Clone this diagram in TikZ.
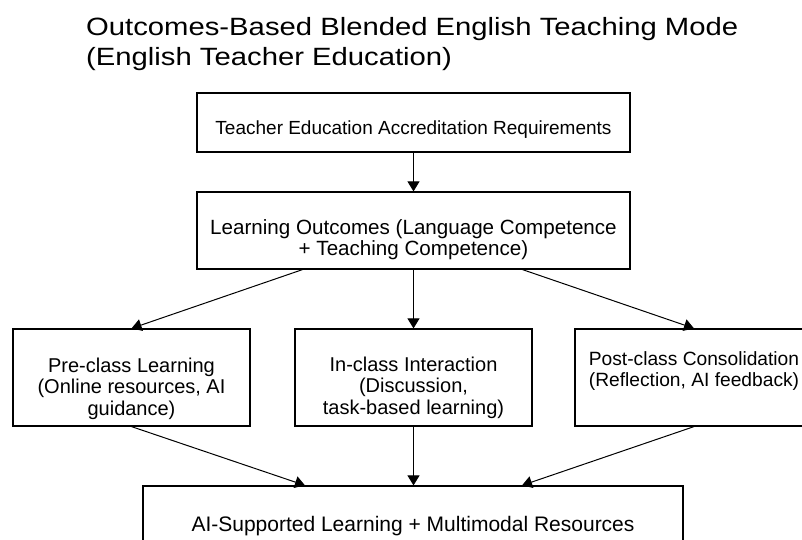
\documentclass[tikz,border=0pt]{standalone}
\usepackage{fontspec}
\setmainfont{Liberation Sans}
\newfontfamily\titlefont{Liberation Sans}[FakeStretch=1.17]
\usetikzlibrary{arrows.meta,positioning}

\tikzset{
  stage/.style={draw, line width=1.2pt, align=center, inner sep=0pt,
                font=\fontsize{20}{21.5}\selectfont},
  flow/.style={line width=1pt, -{Triangle[width=12pt,length=10pt]}}
}

\begin{document}
\begin{tikzpicture}[x=1pt, y=-1pt]
	\useasboundingbox (0,0) rectangle (802,540);
	\fill[white] (0,0) rectangle (802,540);
	\clip (0,0) rectangle (802,540);
	\node[anchor=base west, align=left, inner sep=0pt,
	      font=\titlefont\fontsize{25}{30}\selectfont] (title) at (86,66)
	      {Outcomes-Based Blended English Teaching Mode\\(English Teacher Education)};
	\node[stage, minimum width=433pt, minimum height=59pt, text height=25pt, text depth=0pt,
	      font=\fontsize{19}{21}\selectfont] (accr) at (413.5,122.5)
	      {Teacher Education Accreditation Requirements};
	\node[stage, minimum width=433pt, minimum height=77pt, text height=49pt, text depth=0pt,
	      font=\fontsize{20.6}{20.5}\selectfont] (outc) at (413.5,230.5)
	      {Learning Outcomes (Language Competence\\+ Teaching Competence)};
	\node[stage, minimum width=237pt, minimum height=97pt, text height=75pt, text depth=0pt]
	      (pre) at (131.5,377.5) {Pre-class Learning\\(Online resources, AI\\guidance)};
	\node[stage, minimum width=237pt, minimum height=97pt, text height=73pt, text depth=0pt]
	      (incl) at (413.5,377.5) {In-class Interaction\\(Discussion,\\task-based learning)};
	\node[stage, minimum width=238pt, minimum height=97pt, text height=18.4pt, text depth=0pt,
	      font=\fontsize{19.2}{21.7}\selectfont]
	      (post) at (694,377.5) {Post-class Consolidation\\(Reflection, AI feedback)};
	\node[stage, minimum width=540pt, minimum height=97pt, text height=0pt, text depth=5.6pt,
	      font=\fontsize{21}{22}\selectfont] (res) at (413,534.5)
	      {AI-Supported Learning + Multimodal Resources};

	\draw[flow] (accr) -- (outc);
	\draw[flow] ([xshift=-111pt]outc.south) -- (pre.north);
	\draw[flow] (outc) -- (incl);
	\draw[flow] ([xshift=109pt]outc.south) -- (post.north);
	\draw[flow] (pre.south) -- ([xshift=-108pt]res.north);
	\draw[flow] (incl.south) -- (incl.south |- res.north);
	\draw[flow] (post.south) -- ([xshift=109pt]res.north);
\end{tikzpicture}
\end{document}
